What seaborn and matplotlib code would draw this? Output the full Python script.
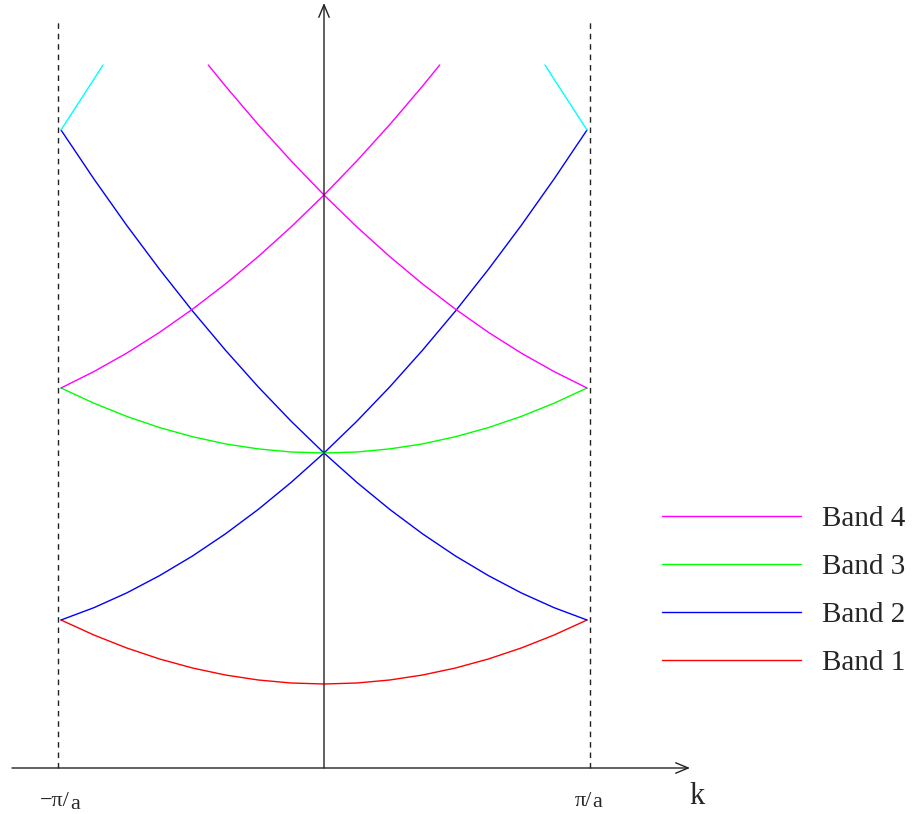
import numpy as np
import pandas as pd
import matplotlib
matplotlib.use('Agg')
import matplotlib.pyplot as plt
from matplotlib.lines import Line2D
import seaborn as sns

# 能带数据 (k 以 pi/a 为单位, E 为任意单位)
k_full = [-1, -0.875, -0.75, -0.625, -0.5, -0.375, -0.25, -0.125, 0,
          0.125, 0.25, 0.375, 0.5, 0.625, 0.75, 0.875, 1]
band1_E = [148, 133, 120, 109, 100, 93, 88, 85, 84,
           85, 88, 93, 100, 109, 120, 133, 148]
band2_up_E = [148, 160.3, 175.1, 192.4, 212, 234.1, 258.6, 285.6, 315,
              346.8, 381.1, 417.9, 457, 498.6, 542.6, 589.1, 638]
band2_down_E = [638, 589.1, 542.6, 498.6, 457, 417.9, 381.1, 346.8, 315,
                285.6, 258.6, 234.1, 212, 192.4, 175.1, 160.3, 148]
band3_E = [380, 364.8, 351.6, 340.4, 331.3, 324.1, 319.1, 316, 315,
           316, 319.1, 324.1, 331.3, 340.4, 351.6, 364.8, 380]
band4_up_k = [-1, -0.875, -0.75, -0.625, -0.5, -0.375, -0.25, -0.125, 0,
              0.125, 0.25, 0.375, 0.44]
band4_up_E = [380, 396.4, 414.9, 435.7, 458.8, 484, 511.4, 541.1, 573,
              607.1, 643.4, 682, 703]
band4_down_k = [1, 0.875, 0.75, 0.625, 0.5, 0.375, 0.25, 0.125, 0,
                -0.125, -0.25, -0.375, -0.44]
band4_down_E = [380, 396.4, 414.9, 435.7, 458.8, 484, 511.4, 541.1, 573,
                607.1, 643.4, 682, 703]
band5_left_k = [-1, -0.84]
band5_left_E = [638, 703]
band5_right_k = [1, 0.84]
band5_right_E = [638, 703]

band_names = ['Band 1', 'Band 2', 'Band 3', 'Band 4', 'Band 5']
band_colors = ['#ff0000', '#0000ff', '#00ff00', '#ff00ff', '#00ffff']
zone_edge = 1.0

branches = [
    ('Band 1', 'b1', k_full, band1_E),
    ('Band 2', 'b2u', k_full, band2_up_E),
    ('Band 2', 'b2d', k_full, band2_down_E),
    ('Band 3', 'b3', k_full, band3_E),
    ('Band 4', 'b4u', band4_up_k, band4_up_E),
    ('Band 4', 'b4d', band4_down_k, band4_down_E),
    ('Band 5', 'b5l', band5_left_k, band5_left_E),
    ('Band 5', 'b5r', band5_right_k, band5_right_E),
]
rows = []
for band, br, ks, es in branches:
    for kk, ee in zip(ks, es):
        rows.append({'band': band, 'branch': br, 'k': kk, 'E': ee})
df = pd.DataFrame(rows)

sns.set_theme(style='white')
plt.rcParams['font.family'] = ['Liberation Serif', 'DejaVu Serif']

W, H = 915, 814
fig = plt.figure(figsize=(W / 100, H / 100), dpi=100)
ax = fig.add_axes([0, 0, 1, 1])

# 像素 -> 数据坐标
def kx(x):
    return (x - 324) / 263

def ey(y):
    return 768 - y

ax.set_xlim(kx(0), kx(W))
ax.set_ylim(ey(H), ey(0))
ax.axis('off')

palette = dict(zip(band_names, band_colors))
sns.lineplot(data=df, x='k', y='E', hue='band', units='branch', estimator=None,
             sort=False, palette=palette, legend=False, lw=1.0, ax=ax)

# 布里渊区边界虚线
for edge in (-zone_edge, zone_edge):
    ax.plot([edge * 1.01, edge * 1.01], [0, ey(22)], color='#222222', lw=1.0,
            dashes=(4, 3.5))

# 坐标轴箭头
arrow = dict(arrowstyle='->,head_length=0.6,head_width=0.25', lw=1.0,
             color='#222222', shrinkA=0, shrinkB=0, mutation_scale=15)
ax.annotate('', xy=(kx(690), 0), xytext=(kx(12), 0), arrowprops=arrow)
ax.annotate('', xy=(0, ey(3)), xytext=(0, 0), arrowprops=arrow)

# 刻度文字
ax.text(kx(70), ey(806), '\u2212\u03c0/', fontsize=16, ha='right', va='baseline')
ax.text(kx(70), ey(809), 'a', fontsize=16, ha='left', va='baseline')
ax.text(kx(592), ey(806), '\u03c0/', fontsize=16, ha='right', va='baseline')
ax.text(kx(592), ey(807), 'a', fontsize=16, ha='left', va='baseline')
ax.text(kx(689), ey(804), 'k', fontsize=22, ha='left', va='baseline')

# 图例
handles = [Line2D([0], [0], color=palette[b], lw=1.0) for b in band_names[3::-1]]
ax.legend(handles, band_names[3::-1], loc='upper left',
          bbox_to_anchor=(662 / W, 1 - 506 / H), frameon=False, fontsize=21,
          handlelength=4.75, handletextpad=0.75, labelspacing=0.74,
          borderpad=0, borderaxespad=0)

fig.savefig('out.png', dpi=100)
